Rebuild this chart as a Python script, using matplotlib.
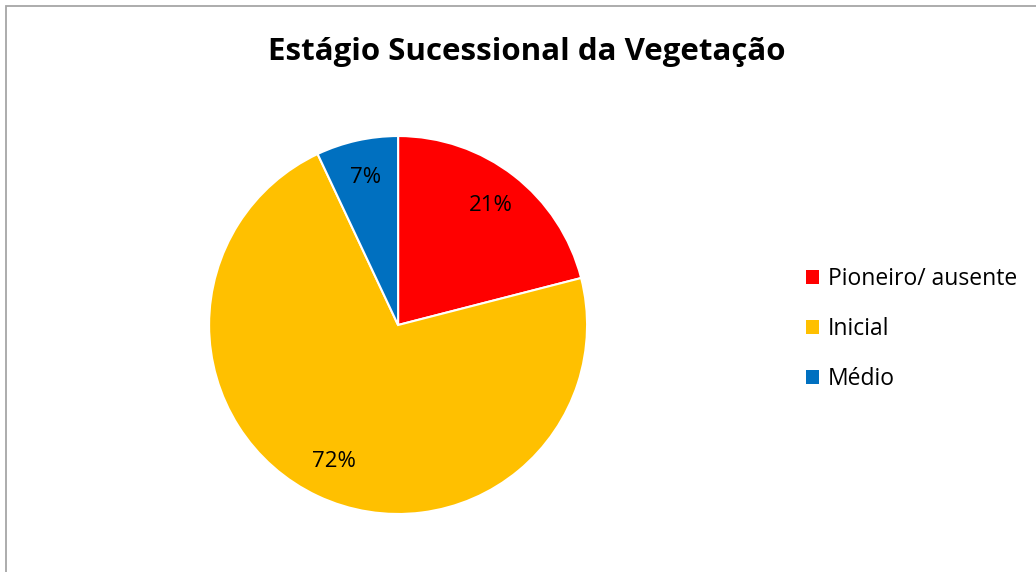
import matplotlib.pyplot as plt
from matplotlib.patches import Rectangle, Patch

labels = ["Pioneiro/ ausente", "Inicial", "Médio"]
values = [21, 72, 7]
colors = ["#ff0000", "#ffc000", "#0070c0"]

plt.rcParams['font.family'] = ['Open Sans', 'DejaVu Sans']

fig = plt.figure(figsize=(10.36, 5.72), dpi=100)

# chart border (gray frame, cut at right/bottom)
fig.patches.append(Rectangle((6 / 1036, -0.1), 1.2, (572 - 6) / 572 + 0.1,
                             transform=fig.transFigure, fill=False,
                             edgecolor="#a6a6a6", linewidth=1.3))

ax = fig.add_axes([0.2018, 0.1014, 0.3649, 0.6608])
wedges, texts, autotexts = ax.pie(
    values, colors=colors, startangle=90, counterclock=False,
    autopct="%1.0f%%", pctdistance=0.8,
    wedgeprops=dict(edgecolor="white", linewidth=1.5),
    textprops=dict(fontsize=16, color="black"))
ax.set_xlim(-1, 1)
ax.set_ylim(-1, 1)
ax.set_aspect("equal")

fig.text(527 / 1036, 1 - 52 / 572, "Estágio Sucessional da Vegetação",
         ha="center", va="center", fontsize=22.5, fontweight="bold")

leg = fig.legend(handles=[Patch(facecolor=c, label=l) for c, l in zip(colors, labels)],
                 loc="upper left", bbox_to_anchor=(797 / 1036, 1 - 258 / 572),
                 frameon=False, fontsize=16.5, handlelength=0.55, handleheight=0.55,
                 handletextpad=0.4, labelspacing=1.14, borderaxespad=0)

fig.savefig("out.png", dpi=100)
